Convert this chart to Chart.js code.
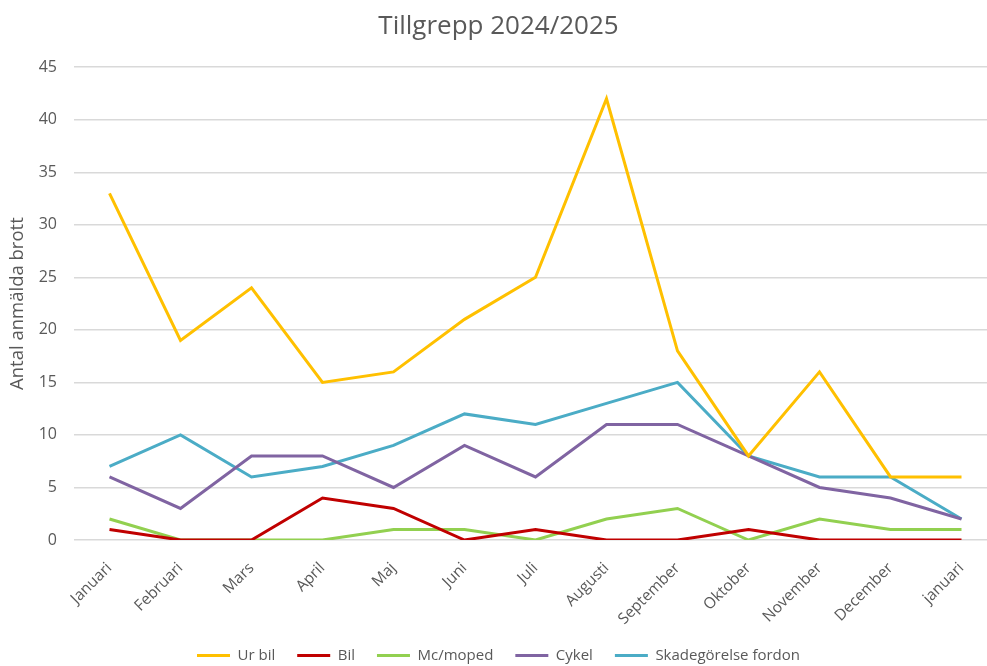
<!DOCTYPE html>
<html>
<head>
<meta charset="utf-8">
<script src="https://cdn.jsdelivr.net/npm/chart.js@4.4.1/dist/chart.umd.min.js"></script>
<style>
  html, body { margin: 0; padding: 0; background: #fff; overflow: hidden; }
  #wrap { width: 997px; height: 666px; }
</style>
</head>
<body>
<div id="wrap"><canvas id="chart"></canvas></div>
<script>
// Months on the x axis
const months = ['Januari', 'Februari', 'Mars', 'April', 'Maj', 'Juni', 'Juli', 'Augusti',
  'September', 'Oktober', 'November', 'December', 'januari'];

// Series values
const urBil = [33, 19, 24, 15, 16, 21, 25, 42, 18, 8, 16, 6, 6];
const bil = [1, 0, 0, 4, 3, 0, 1, 0, 0, 1, 0, 0, 0];
const mcMoped = [2, 0, 0, 0, 1, 1, 0, 2, 3, 0, 2, 1, 1];
const cykel = [6, 3, 8, 8, 5, 9, 6, 11, 11, 8, 5, 4, 2];
const skadegorelse = [7, 10, 6, 7, 9, 12, 11, 13, 15, 8, 6, 6, 2];

const yTicks = [0, 5, 10, 15, 20, 25, 30, 35, 40, 45];

const textColor = '#595959';
const fontFamily = "'Open Sans', 'Liberation Sans', sans-serif";

function series(label, data, color) {
  return {
    label: label,
    data: data,
    borderColor: color,
    backgroundColor: color,
    borderWidth: 3,
    pointRadius: 0,
    tension: 0,
    fill: false
  };
}

new Chart(document.getElementById('chart'), {
  type: 'line',
  data: {
    labels: months,
    datasets: [
      series('Ur bil', urBil, '#FFC000'),
      series('Bil', bil, '#C00000'),
      series('Mc/moped', mcMoped, '#92D050'),
      series('Cykel', cykel, '#8064A2'),
      series('Skadegörelse fordon', skadegorelse, '#4BACC6')
    ]
  },
  options: {
    responsive: true,
    maintainAspectRatio: false,
    animation: false,
    layout: { padding: { left: 0, right: 0, top: 0, bottom: -7 } },
    plugins: {
      title: {
        display: true,
        text: 'Tillgrepp 2024/2025',
        color: textColor,
        font: { family: fontFamily, size: 26, weight: 'normal' },
        padding: { top: 11, bottom: 25 }
      },
      legend: {
        position: 'bottom',
        labels: {
          color: textColor,
          font: { family: fontFamily, size: 15 },
          boxWidth: 33,
          boxHeight: 3,
          padding: 22,
          // thin line swatches, no outline round the box
          generateLabels(chart) {
            const items = Chart.defaults.plugins.legend.labels.generateLabels(chart);
            items.forEach(item => { item.lineWidth = 0; });
            return items;
          }
        }
      },
      tooltip: { enabled: false }
    },
    scales: {
      x: {
        offset: true,
        grid: { display: false },
        border: { display: false },
        ticks: {
          color: textColor,
          font: { family: fontFamily, size: 15.5 },
          maxRotation: 45,
          minRotation: 45,
          autoSkip: false,
          padding: 11
        },
        afterFit(scale) { scale.height = 86; }
      },
      y: {
        min: 0,
        max: 45,
        afterBuildTicks(scale) { scale.ticks = yTicks.map(v => ({ value: v })); },
        grid: { color: '#d9d9d9', lineWidth: 1.5, drawTicks: false },
        border: { display: false },
        ticks: {
          color: textColor,
          font: { family: fontFamily, size: 16 },
          padding: 17
        },
        title: {
          display: true,
          text: 'Antal anmälda brott',
          color: textColor,
          font: { family: fontFamily, size: 18.5 },
          padding: { top: 7, bottom: 0 }
        },
        afterFit(scale) { scale.width = 74; }
      }
    }
  }
});
</script>
</body>
</html>
